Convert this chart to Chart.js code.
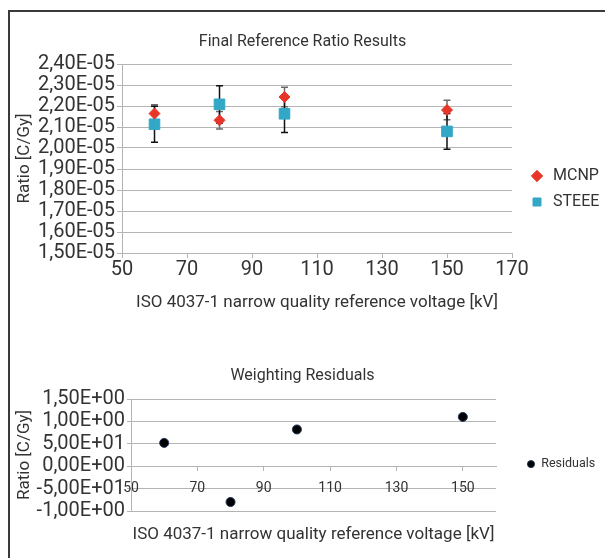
<!DOCTYPE html>
<html>
<head>
<meta charset="utf-8">
<script src="https://cdn.jsdelivr.net/npm/chart.js@4.4.0/dist/chart.umd.min.js"></script>
<style>
  html, body { margin: 0; padding: 0; background: #fff; }
  body { width: 605px; height: 558px; position: relative; overflow: hidden; }
  #frame { position: absolute; left: 8px; top: 10px; width: 640px; height: 600px;
           border-top: 2px solid #3a3a3a; border-left: 2px solid #3a3a3a; }
  canvas { position: absolute; left: 0; }
  #topChart { top: 0; }
  #bottomChart { top: 340px; }
</style>
</head>
<body>
<div id="frame"></div>
<canvas id="topChart" width="605" height="374"></canvas>
<canvas id="bottomChart" width="605" height="218"></canvas>
<script>
const FONT = "Roboto, 'Liberation Sans', sans-serif";
const TEXT = "#333333";
const GRID = "#b4b4b4";

// ======== Dados ========

// Gráfico de cima
const voltages = [60, 80, 100, 150];
const mcnpRatio = [2.164e-5, 2.132e-5, 2.243e-5, 2.181e-5];
const mcnpError = [0.042e-5, 0.042e-5, 0.046e-5, 0.046e-5];
const steeeRatio = [2.113e-5, 2.208e-5, 2.163e-5, 2.079e-5];
const steeeError = [0.086e-5, 0.089e-5, 0.089e-5, 0.085e-5];
const xTicksTop = [50, 70, 90, 110, 130, 150, 170];
const yTicksTop = [1.5e-5, 1.6e-5, 1.7e-5, 1.8e-5, 1.9e-5, 2.0e-5, 2.1e-5, 2.2e-5, 2.3e-5, 2.4e-5];
const yLabelsTop = ["1,50E-05", "1,60E-05", "1,70E-05", "1,80E-05", "1,90E-05",
                    "2,00E-05", "2,10E-05", "2,20E-05", "2,30E-05", "2,40E-05"];

// Resíduos
const residuals = [0.52, -0.80, 0.82, 1.10];
const xTicksBottom = [50, 70, 90, 110, 130, 150];
const yTicksBottom = [-1, -0.5, 0, 0.5, 1, 1.5];
const yLabelsBottom = ["-1,00E+00", "-5,00E+01", "0,00E+00", "5,00E+01", "1,00E+00", "1,50E+00"];

// ======== Barras de erro ========
const errorBarPlugin = {
  id: "errorBars",
  beforeDatasetsDraw(chart) {
    const { ctx, scales: { x, y } } = chart;
    chart.data.datasets.forEach((ds, i) => {
      if (!ds.errorBars || !chart.isDatasetVisible(i)) return;
      ctx.save();
      ctx.strokeStyle = ds.errorBarColor;
      ctx.lineWidth = 1.5;
      ds.data.forEach((pt, j) => {
        const px = x.getPixelForValue(pt.x);
        const top = y.getPixelForValue(pt.y + ds.errorBars[j]);
        const bottom = y.getPixelForValue(pt.y - ds.errorBars[j]);
        ctx.beginPath();
        ctx.moveTo(px, top);
        ctx.lineTo(px, bottom);
        ctx.moveTo(px - 3.5, top);
        ctx.lineTo(px + 3.5, top);
        ctx.moveTo(px - 3.5, bottom);
        ctx.lineTo(px + 3.5, bottom);
        ctx.stroke();
      });
      ctx.restore();
    });
  },
};

function font(size) {
  return { family: FONT, size: size, weight: "normal" };
}

// eixo vazio só para afastar a legenda da área do gráfico
function gapAxis(width) {
  return {
    type: "linear",
    position: "right",
    grid: { display: false },
    ticks: { display: false },
    border: { display: false },
    afterFit: (s) => { s.width = width; },
  };
}

// ======== Gráfico de cima ========
new Chart(document.getElementById("topChart"), {
  type: "scatter",
  data: {
    datasets: [
      {
        label: "MCNP",
        data: voltages.map((v, i) => ({ x: v, y: mcnpRatio[i] })),
        errorBars: mcnpError,
        errorBarColor: "#6a6a6a",
        pointStyle: "rectRot",
        pointRadius: 5.5,
        backgroundColor: "#e8352a",
        borderColor: "#e8352a",
        borderWidth: 1,
      },
      {
        label: "STEEE",
        data: voltages.map((v, i) => ({ x: v, y: steeeRatio[i] })),
        errorBars: steeeError,
        errorBarColor: "#111111",
        pointStyle: "rect",
        pointRadius: 7.5,
        backgroundColor: "#33a7c6",
        borderColor: "#33a7c6",
        borderWidth: 1,
      },
    ],
  },
  options: {
    responsive: false,
    animation: false,
    events: [],
    layout: { padding: { top: 4, right: 0, bottom: 0, left: 0 } },
    plugins: {
      title: {
        display: true,
        text: "Final Reference Ratio Results",
        color: TEXT,
        font: font(16),
        padding: { top: 28.5, bottom: 12.3 },
      },
      legend: {
        position: "right",
        maxWidth: 86,
        labels: { usePointStyle: true, boxHeight: 8, color: TEXT, font: font(16), padding: 10 },
      },
      tooltip: { enabled: false },
    },
    scales: {
      x: {
        type: "linear",
        min: 50,
        max: 170,
        afterBuildTicks: (s) => { s.ticks = xTicksTop.map((v) => ({ value: v })); },
        ticks: { color: TEXT, font: font(20), padding: 0, maxRotation: 0, autoSkip: false },
        grid: { drawOnChartArea: false, color: GRID, tickLength: 5 },
        border: { color: GRID },
        title: {
          display: true,
          text: "ISO 4037-1 narrow quality reference voltage [kV]",
          color: TEXT,
          font: font(17),
          padding: { top: 10.5, bottom: 61.1 },
        },
      },
      y: {
        min: 1.5e-5,
        max: 2.4e-5,
        afterBuildTicks: (s) => { s.ticks = yTicksTop.map((v) => ({ value: v })); },
        afterFit: (s) => { s.width = 122; },
        ticks: { color: TEXT, font: font(20), padding: 2, autoSkip: false, callback: (v, i) => yLabelsTop[i] },
        grid: { color: GRID, tickLength: 5 },
        border: { color: GRID },
        title: {
          display: true,
          text: "Ratio [C/Gy]",
          color: TEXT,
          font: font(17),
          padding: { top: 14.8, bottom: 0 },
        },
      },
      gap: gapAxis(7),
    },
  },
  plugins: [errorBarPlugin],
});

// ======== Resíduos ========
new Chart(document.getElementById("bottomChart"), {
  type: "scatter",
  data: {
    datasets: [
      {
        label: "Residuals",
        data: voltages.map((v, i) => ({ x: v, y: residuals[i] })),
        pointStyle: "circle",
        pointRadius: 4.5,
        backgroundColor: "#000000",
        borderColor: "#1d3557",
        borderWidth: 1,
      },
    ],
  },
  options: {
    responsive: false,
    animation: false,
    events: [],
    layout: { padding: { top: 13, right: 0, bottom: 47, left: 0 } },
    plugins: {
      title: {
        display: true,
        text: "Weighting Residuals",
        color: TEXT,
        font: font(16),
        padding: { top: 13.5, bottom: 13.3 },
      },
      legend: {
        position: "right",
        fullSize: false,
        maxWidth: 86,
        title: { display: true, text: "", font: { size: 1 }, padding: { top: 17, bottom: 0 } },
        labels: { usePointStyle: true, boxHeight: 5, boxWidth: 8, color: TEXT, font: font(12.5), padding: 8 },
      },
      tooltip: { enabled: false },
    },
    scales: {
      x: {
        type: "linear",
        position: { y: 0 },
        min: 50,
        max: 160,
        afterBuildTicks: (s) => { s.ticks = xTicksBottom.map((v) => ({ value: v })); },
        ticks: { color: TEXT, font: font(14), padding: 10, maxRotation: 0, autoSkip: false },
        grid: { drawOnChartArea: false, color: GRID, tickLength: 4 },
        border: { color: GRID },
        title: {
          display: true,
          text: "ISO 4037-1 narrow quality reference voltage [kV]",
          color: TEXT,
          font: font(17),
          padding: { top: 20.5, bottom: 0 },
        },
      },
      y: {
        min: -1,
        max: 1.5,
        afterBuildTicks: (s) => { s.ticks = yTicksBottom.map((v) => ({ value: v })); },
        afterFit: (s) => { s.width = 131; },
        ticks: { color: TEXT, font: font(20), padding: 2, autoSkip: false, callback: (v, i) => yLabelsBottom[i] },
        grid: { color: GRID, tickLength: 4 },
        border: { color: GRID },
        title: {
          display: true,
          text: "Ratio [C/Gy]",
          color: TEXT,
          font: font(17),
          padding: { top: 14.8, bottom: 0 },
        },
      },
      gap: gapAxis(23),
    },
  },
});
</script>
</body>
</html>
